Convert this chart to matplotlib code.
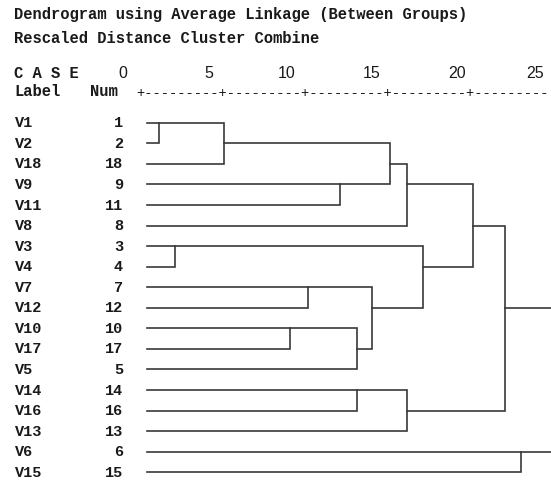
import numpy as np
import matplotlib.pyplot as plt
from matplotlib import transforms

# ---- datos ----
etiquetas = ["V1", "V2", "V18", "V9", "V11", "V8", "V3", "V4", "V7", "V12",
             "V10", "V17", "V5", "V14", "V16", "V13", "V6", "V15"]
num_caso = [1, 2, 18, 9, 11, 8, 3, 4, 7, 12, 10, 17, 5, 14, 16, 13, 6, 15]

# nodos 0-17 = hojas en orden de fila, 18+ = grupos en orden de fusión
fusion_a = [0, 6, 18, 10, 8, 3, 21, 13, 22, 20, 27, 25, 19, 28, 31, 16, 32]
fusion_b = [1, 7, 2, 11, 9, 4, 12, 14, 24, 23, 5, 15, 26, 30, 29, 17, 33]
fusion_d = [0.76, 1.73, 4.75, 8.85, 9.94, 11.96, 12.98, 12.98, 13.94, 15.06,
            16.07, 16.07, 17.06, 20.15, 22.15, 23.14, 25.0]

escala_valores = ["0", "5", "10", "15", "20", "25"]
escala_px = [122.7, 209.3, 286.7, 371.7, 456.7, 535.0]

titulo1 = "Dendrogram using Average Linkage (Between Groups)"
titulo2 = "Rescaled Distance Cluster Combine"

# ---- figura ----
W, H = 551, 482
fig = plt.figure(figsize=(W / 100, H / 100), dpi=100)
ax = fig.add_axes([0, 0, 1, 1])
ax.axis("off")

x0_px, x25_px = 147.0, 551.0
ppu = (x25_px - x0_px) / 25.0
fila0_px, paso_px = 122.7, 20.56
ax.set_xlim(-x0_px / ppu, (W - x0_px) / ppu)
ax.set_ylim((H - fila0_px) / paso_px, -fila0_px / paso_px)

mono = "Liberation Mono"
color_linea = "#383838"
color_txt = "#1a1a1a"

def px(x, y):
    return x / W, 1 - y / H

# cabecera
fig.text(*px(14, 19), titulo1, family=mono, weight="bold", fontsize=11.2,
         color=color_txt, va="baseline")
fig.text(*px(14, 43), titulo2, family=mono, weight="bold", fontsize=11.2,
         color=color_txt, va="baseline")
fig.text(*px(14, 78), "C A S E", family=mono, weight="bold", fontsize=11.2,
         color=color_txt, va="baseline")
fig.text(*px(14, 96.5), "Label", family=mono, weight="bold", fontsize=11.2,
         color=color_txt, va="baseline")
fig.text(*px(90, 96), "Num", family=mono, weight="bold", fontsize=11.2,
         color=color_txt, va="baseline")
for val, xp in zip(escala_valores, escala_px):
    fig.text(*px(xp, 78.3), val, family="Liberation Sans", fontsize=11.5,
             color=color_txt, ha="center", va="baseline")
fig.text(*px(136, 97), "+---------" * 5, family=mono, fontsize=9.9,
         color=color_txt, va="baseline")

# etiquetas de filas
trans = transforms.blended_transform_factory(fig.transFigure, ax.transData)
off = 4.6 / paso_px
for fila, (lab, n) in enumerate(zip(etiquetas, num_caso)):
    ax.text(15 / W, fila + off, lab, transform=trans, family=mono,
            weight="bold", fontsize=11, color=color_txt, va="baseline")
    ax.text(123 / W, fila + off, str(n), transform=trans, family=mono,
            weight="bold", fontsize=11, color=color_txt, va="baseline",
            ha="right")

# árbol
n_hojas = len(etiquetas)
pos_x = {i: 0.0 for i in range(n_hojas)}
pos_y = {i: i for i in range(n_hojas)}
ultimo = len(fusion_d) - 1
for k, (a, b, d) in enumerate(zip(fusion_a, fusion_b, fusion_d)):
    ya, yb = pos_y[a], pos_y[b]
    if k == ultimo:
        # la unión final queda justo en el borde de la figura
        ax.plot([pos_x[a], d], [ya, ya], color=color_linea, lw=1.2)
        ax.plot([pos_x[b], d], [yb, yb], color=color_linea, lw=1.2)
    else:
        ax.plot([pos_x[a], d, d, pos_x[b]], [ya, ya, yb, yb],
                color=color_linea, lw=1.2, solid_joinstyle="miter")
    nodo = n_hojas + k
    pos_x[nodo] = d
    pos_y[nodo] = int(np.floor((min(ya, yb) + max(ya, yb)) / 2))

fig.savefig("out.png", dpi=100, facecolor="white")
